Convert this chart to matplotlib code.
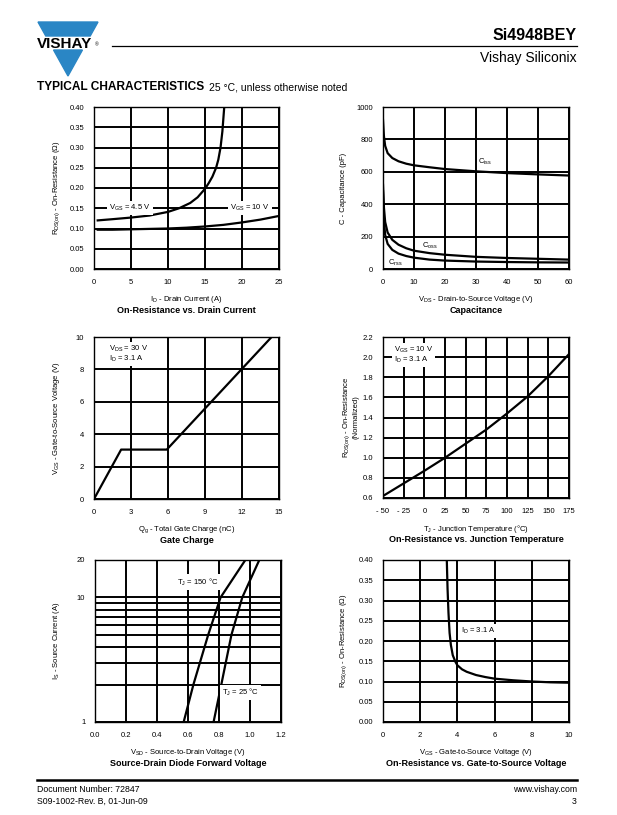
import numpy as np
import matplotlib
matplotlib.use("Agg")
import matplotlib.pyplot as plt
from matplotlib.patches import Polygon
from matplotlib.ticker import FixedLocator, NullFormatter, FuncFormatter

plt.rcParams['font.family'] = ['Liberation Sans', 'DejaVu Sans']
plt.rcParams['mathtext.fontset'] = 'custom'
plt.rcParams['mathtext.rm'] = 'Liberation Sans'
plt.rcParams['mathtext.it'] = 'Liberation Sans'

# --- data ---
# on-resistance vs drain current
id_45 = [0.5, 2.5, 5, 7.5, 10, 11.5, 13, 14, 15, 15.5, 16, 16.5, 16.8, 17.1, 17.35, 17.6]
rds_45 = [0.120, 0.123, 0.127, 0.132, 0.141, 0.150, 0.163, 0.177, 0.198, 0.212, 0.228, 0.250, 0.270, 0.300, 0.340, 0.400]
id_10 = [0.5, 2.5, 5, 7.5, 10, 12.5, 15, 17.5, 20, 22.5, 25]
rds_10 = [0.097, 0.097, 0.098, 0.099, 0.100, 0.102, 0.105, 0.109, 0.115, 0.122, 0.131]

# capacitance
vds = [0, 0.3, 0.7, 1.5, 3, 5, 7.5, 10, 15, 20, 30, 40, 50, 60]
ciss = [920, 820, 760, 715, 685, 665, 650, 640, 628, 617, 603, 592, 584, 577]
coss = [520, 380, 290, 225, 180, 150, 128, 113, 98, 88, 75, 68, 63, 58]
crss = [480, 300, 210, 155, 118, 95, 80, 70, 58, 52, 46, 43, 41, 40]

# gate charge
qg = [0, 2.2, 5.9, 14.4]
vgs_qg = [0, 3.05, 3.05, 10]

# on-resistance vs junction temperature
tj = [-50, -25, 0, 25, 50, 75, 100, 125, 150, 175]
rds_norm = [0.62, 0.745, 0.87, 1.0, 1.14, 1.28, 1.44, 1.61, 1.81, 2.03]

# source-drain diode
is_a = [1, 2, 5, 10, 20]
vsd_150 = [0.572, 0.635, 0.73, 0.81, 0.97]
vsd_25 = [0.765, 0.815, 0.88, 0.95, 1.06]

# on-resistance vs gate-source voltage
vgs = [3.43, 3.47, 3.52, 3.58, 3.65, 3.75, 3.9, 4.0, 4.25, 4.5, 5, 5.5, 6, 7, 8, 9, 10]
rds_vgs = [0.40, 0.33, 0.27, 0.22, 0.19, 0.165, 0.148, 0.14, 0.13, 0.124, 0.116, 0.111, 0.107, 0.103, 0.100, 0.098, 0.097]

W, H = 617, 815
fig = plt.figure(figsize=(W / 100, H / 100), dpi=100)


def px(x, y):
    # page pixel -> figure fraction
    return x / W, 1 - y / H


def make_ax(left, top, right, bottom):
    x0, y1 = px(left, top)
    x1, y0 = px(right, bottom)
    ax = fig.add_axes([x0, y0, x1 - x0, y1 - y0])
    ax.grid(True, color='k', lw=1.4)
    ax.set_axisbelow(True)
    ax.tick_params(length=0, pad=7, labelsize=5.5)
    for s in ax.spines.values():
        s.set_linewidth(1.0)
    return ax


def labels(ax, xl, yl, title, ylx=-0.2):
    ax.set_xlabel(xl, fontsize=5.5, labelpad=6)
    ax.set_ylabel(yl, fontsize=5.5, va='center')
    ax.yaxis.set_label_coords(ylx, 0.5)
    ax.text(0.5, -0.255, title, transform=ax.transAxes, ha='center', va='center',
            fontsize=6.5, fontweight='bold')


box = dict(facecolor='white', edgecolor='none', pad=1.5)
lw = 1.6

# 1. Rds(on) vs Id
ax = make_ax(94, 107, 279, 269)
ax.plot(id_45, rds_45, 'k', lw=lw)
ax.plot(id_10, rds_10, 'k', lw=lw)
ax.set_xlim(0, 25)
ax.set_ylim(0, 0.40)
ax.set_xticks([0, 5, 10, 15, 20, 25])
ax.set_yticks(np.arange(0, 0.41, 0.05))
ax.yaxis.set_major_formatter(FuncFormatter(lambda v, p: "%.2f" % v))
ax.text(4.9, 0.15, "V$_{GS}$ = 4.5 V", fontsize=5.5, ha='center', va='center', bbox=box)
ax.text(21.1, 0.15, "V$_{GS}$ = 10 V", fontsize=5.5, ha='center', va='center', bbox=box)
labels(ax, "I$_D$ - Drain Current (A)", "R$_{DS(on)}$ - On-Resistance (Ω)",
       "On-Resistance vs. Drain Current", ylx=-0.2)

# 2. Capacitance
ax = make_ax(383, 107, 569, 269)
ax.plot(vds, ciss, 'k', lw=lw)
ax.plot(vds, coss, 'k', lw=lw)
ax.plot(vds, crss, 'k', lw=lw)
ax.set_xlim(0, 60)
ax.set_ylim(0, 1000)
ax.set_xticks(range(0, 61, 10))
ax.set_yticks(range(0, 1001, 200))
ax.text(33, 660, "C$_{iss}$", fontsize=5.5, ha='center', va='center')
ax.text(15, 140, "C$_{oss}$", fontsize=5.5, ha='center', va='center')
ax.text(4, 38, "C$_{rss}$", fontsize=5.5, ha='center', va='center')
labels(ax, "V$_{DS}$ - Drain-to-Source Voltage (V)", "C - Capacitance (pF)",
       "Capacitance", ylx=-0.215)

# 3. Gate charge
ax = make_ax(94, 337, 279, 499)
ax.plot(qg, vgs_qg, 'k', lw=lw)
ax.set_xlim(0, 15)
ax.set_ylim(0, 10)
ax.set_xticks(range(0, 16, 3))
ax.set_yticks(range(0, 11, 2))
ax.text(1.2, 9.55, "V$_{DS}$ = 30 V\nI$_D$ = 3.1 A", fontsize=5.5, ha='left', va='top',
        linespacing=0.9, bbox=box)
labels(ax, "Q$_g$ - Total Gate Charge (nC)", "V$_{GS}$ - Gate-to-Source Voltage (V)",
       "Gate Charge", ylx=-0.2)

# 4. Rds(on) vs Tj
ax = make_ax(383, 337, 569, 498)
ax.plot(tj, rds_norm, 'k', lw=lw)
ax.set_xlim(-50, 175)
ax.set_ylim(0.6, 2.2)
ax.set_xticks(range(-50, 176, 25))
ax.set_xticklabels(["- 50", "- 25"] + [str(v) for v in range(0, 176, 25)])
ax.set_yticks(np.arange(0.6, 2.21, 0.2))
ax.yaxis.set_major_formatter(FuncFormatter(lambda v, p: "%.1f" % v))
ax.text(-37, 2.12, "V$_{GS}$ = 10 V\nI$_D$ = 3.1 A", fontsize=5.5, ha='left', va='top',
        linespacing=0.9, bbox=box)
labels(ax, "T$_J$ - Junction Temperature (°C)",
       "R$_{DS(on)}$ - On-Resistance\n(Normalized)",
       "On-Resistance vs. Junction Temperature", ylx=-0.175)

# 5. Source-drain diode forward voltage
ax = make_ax(95, 560, 281, 722)
ax.plot(vsd_150, is_a, 'k', lw=lw)
ax.plot(vsd_25, is_a, 'k', lw=lw)
ax.set_yscale('log')
ax.set_xlim(0, 1.2)
ax.set_ylim(1, 20)
ax.set_xticks(np.arange(0, 1.21, 0.2))
ax.xaxis.set_major_formatter(FuncFormatter(lambda v, p: "%.1f" % v))
ax.yaxis.set_major_locator(FixedLocator([1, 10, 20]))
ax.yaxis.set_major_formatter(FuncFormatter(lambda v, p: "%d" % v))
ax.yaxis.set_minor_locator(FixedLocator([2, 3, 4, 5, 6, 7, 8, 9]))
ax.yaxis.set_minor_formatter(NullFormatter())
ax.grid(True, which='minor', axis='y', color='k', lw=1.4)
ax.tick_params(which='minor', length=0)
ax.text(0.53, 13.3, "T$_J$ = 150 °C", fontsize=5.5, ha='left', va='center', bbox=box)
ax.text(0.82, 1.72, "T$_J$ = 25 °C", fontsize=5.5, ha='left', va='center', bbox=box)
labels(ax, "V$_{SD}$ - Source-to-Drain Voltage (V)", "I$_S$ - Source Current (A)",
       "Source-Drain Diode Forward Voltage", ylx=-0.205)

# 6. Rds(on) vs Vgs
ax = make_ax(383, 560, 569, 722)
ax.plot(vgs, rds_vgs, 'k', lw=lw)
ax.set_xlim(0, 10)
ax.set_ylim(0, 0.40)
ax.set_xticks(range(0, 11, 2))
ax.set_yticks(np.arange(0, 0.41, 0.05))
ax.yaxis.set_major_formatter(FuncFormatter(lambda v, p: "%.2f" % v))
ax.text(4.2, 0.225, "I$_D$ = 3.1 A", fontsize=5.5, ha='left', va='center', bbox=box)
labels(ax, "V$_{GS}$ - Gate-to-Source Voltage (V)", "R$_{DS(on)}$ - On-Resistance (Ω)",
       "On-Resistance vs. Gate-to-Source Voltage", ylx=-0.21)

# --- page header / footer ---
blue = '#2a86c5'


def tri_half(y):
    return 30 * (76 - y) / 54


top = [px(38, 22), px(98, 22), px(68 + tri_half(36), 36), px(68 - tri_half(36), 36)]
bot = [px(68 - tri_half(50), 50), px(68 + tri_half(50), 50), px(68, 76)]
fig.patches.append(Polygon(top, closed=True, color=blue, transform=fig.transFigure))
fig.patches.append(Polygon(bot, closed=True, color=blue, transform=fig.transFigure))
fig.text(*px(37, 43.5), "VISHAY", fontsize=11, fontweight='bold', ha='left', va='center')
fig.text(*px(95, 47), "®", fontsize=3.5, ha='left', va='bottom')

fig.add_artist(plt.Line2D([112 / W, 577 / W], [1 - 46 / H] * 2, color='k', lw=0.9))
fig.text(*px(577, 35), "Si4948BEY", fontsize=11.5, fontweight='bold', ha='right', va='center')
fig.text(*px(577, 58), "Vishay Siliconix", fontsize=10, ha='right', va='center')
fig.text(*px(37, 87), "TYPICAL CHARACTERISTICS", fontsize=8.6, fontweight='heavy',
         ha='left', va='center')
fig.text(*px(209, 87), "25 °C, unless otherwise noted", fontsize=7.5, ha='left', va='center')

fig.add_artist(plt.Line2D([37 / W, 577 / W], [1 - 780 / H] * 2, color='k', lw=1.8))
fig.text(*px(37, 790), "Document Number: 72847", fontsize=6.3, ha='left', va='center')
fig.text(*px(37, 801), "S09-1002-Rev. B, 01-Jun-09", fontsize=6.3, ha='left', va='center')
fig.text(*px(577, 790), "www.vishay.com", fontsize=6.3, ha='right', va='center')
fig.text(*px(577, 801), "3", fontsize=6.3, ha='right', va='center')

fig.savefig("out.png", dpi=100)
